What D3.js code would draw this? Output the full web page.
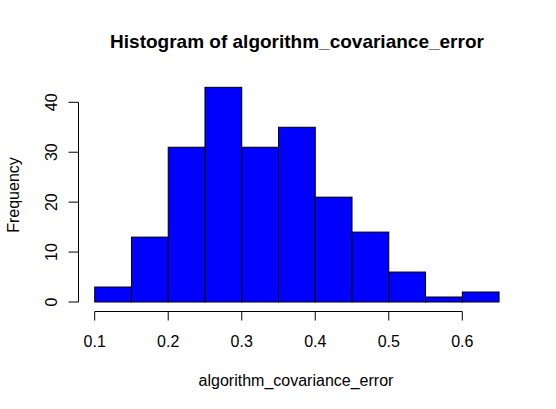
<!DOCTYPE html>
<html>
<head>
<meta charset="utf-8">
<script src="https://cdn.jsdelivr.net/npm/d3@7"></script>
<style>
  body { margin: 0; background: #fff; }
  text { font-family: "Liberation Sans", Arial, sans-serif; fill: #000; }
</style>
</head>
<body>
<div id="chart"></div>
<script>
// Histogram bins (left edge, right edge) and counts
const binStarts = [0.10, 0.15, 0.20, 0.25, 0.30, 0.35, 0.40, 0.45, 0.50, 0.55, 0.60];
const binEnds   = [0.15, 0.20, 0.25, 0.30, 0.35, 0.40, 0.45, 0.50, 0.55, 0.60, 0.65];
const counts    = [3, 13, 31, 43, 31, 35, 21, 14, 6, 1, 2];
const xTicks = [0.1, 0.2, 0.3, 0.4, 0.5, 0.6];
const yTicks = [0, 10, 20, 30, 40];

const width = 556, height = 409;

const svg = d3.select("#chart").append("svg")
  .attr("width", width)
  .attr("height", height);

// scales fitted to the plot region
const x = d3.scaleLinear().domain([0.1, 0.6]).range([94.7, 462.3]);
const y = d3.scaleLinear().domain([0, 40]).range([302, 102.3]);

// bars
svg.selectAll("rect.bar")
  .data(counts)
  .enter().append("rect")
  .attr("class", "bar")
  .attr("x", (d, i) => x(binStarts[i]))
  .attr("y", d => y(d))
  .attr("width", (d, i) => x(binEnds[i]) - x(binStarts[i]))
  .attr("height", d => y(0) - y(d))
  .attr("fill", "#0000ff")
  .attr("stroke", "#000")
  .attr("stroke-width", 1);

// x axis
const xAxis = svg.append("g").attr("transform", "translate(0,311.5)");
xAxis.append("line")
  .attr("x1", x(0.1)).attr("x2", x(0.6))
  .attr("stroke", "#000");
xAxis.selectAll("line.tick")
  .data(xTicks)
  .enter().append("line")
  .attr("x1", d => x(d)).attr("x2", d => x(d))
  .attr("y1", 0).attr("y2", 9)
  .attr("stroke", "#000");
xAxis.selectAll("text")
  .data(xTicks)
  .enter().append("text")
  .attr("x", d => x(d))
  .attr("y", 35)
  .attr("text-anchor", "middle")
  .style("font-size", "16px")
  .text(d => d3.format(".1f")(d));

// y axis
const yAxis = svg.append("g").attr("transform", "translate(78.5,0)");
yAxis.append("line")
  .attr("y1", y(0)).attr("y2", y(40))
  .attr("stroke", "#000");
yAxis.selectAll("line.tick")
  .data(yTicks)
  .enter().append("line")
  .attr("y1", d => y(d)).attr("y2", d => y(d))
  .attr("x1", -10).attr("x2", 0)
  .attr("stroke", "#000");
yAxis.selectAll("text")
  .data(yTicks)
  .enter().append("text")
  .attr("transform", d => `translate(-21.5,${y(d)}) rotate(-90)`)
  .attr("text-anchor", "middle")
  .style("font-size", "16px")
  .text(d => d);

// title and axis labels
svg.append("text")
  .attr("x", 297)
  .attr("y", 47.5)
  .attr("text-anchor", "middle")
  .style("font-size", "19px")
  .style("font-weight", "bold")
  .text("Histogram of algorithm_covariance_error");

svg.append("text")
  .attr("x", 296)
  .attr("y", 386)
  .attr("text-anchor", "middle")
  .style("font-size", "16px")
  .text("algorithm_covariance_error");

svg.append("text")
  .attr("transform", "translate(19,195) rotate(-90)")
  .attr("text-anchor", "middle")
  .style("font-size", "16px")
  .text("Frequency");
</script>
</body>
</html>
